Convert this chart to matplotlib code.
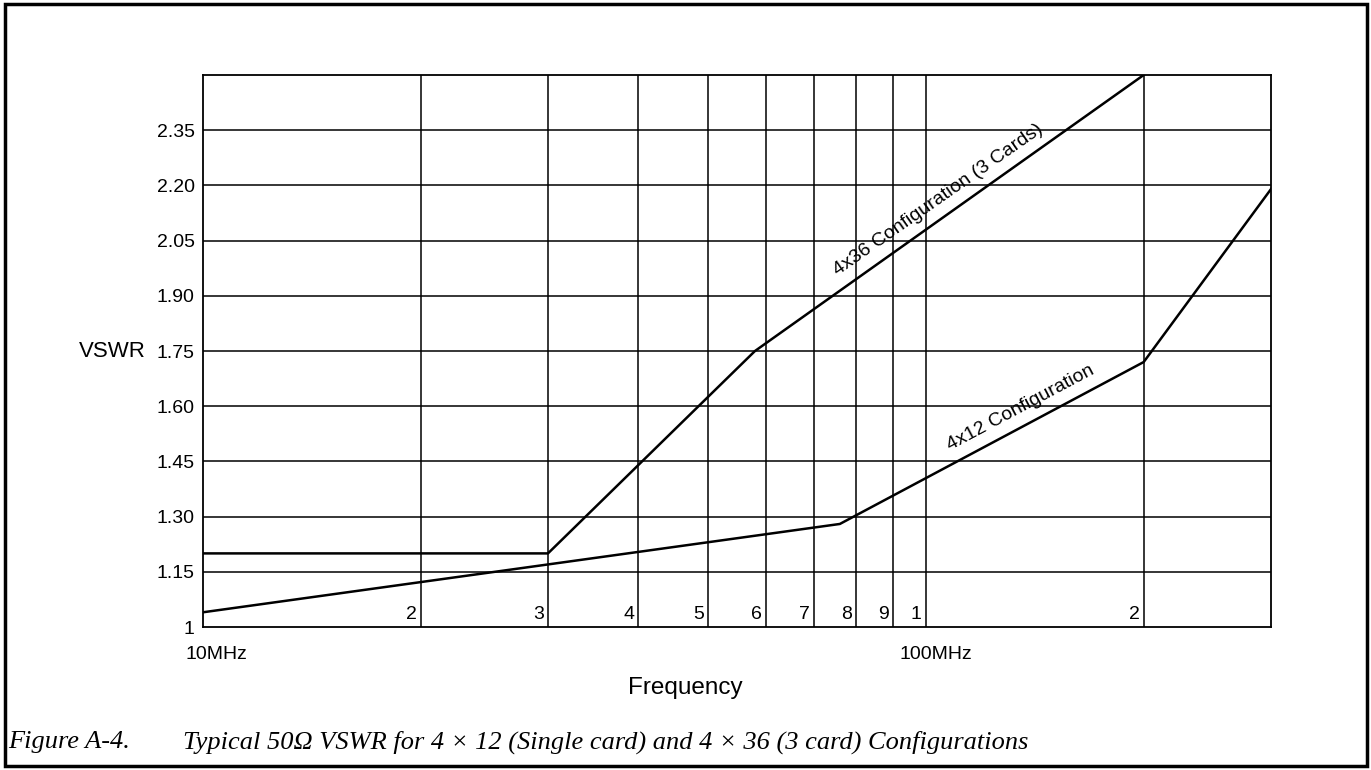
import numpy as np
import matplotlib
matplotlib.use('Agg')
import matplotlib.pyplot as plt
from matplotlib.patches import Rectangle
import matplotlib.transforms as mtransforms

plt.rcParams['font.family'] = ['Liberation Sans', 'DejaVu Sans']

# data (MHz, VSWR)
freq_4x36 = [10, 30, 58, 200]
vswr_4x36 = [1.20, 1.20, 1.75, 2.50]
freq_4x12 = [10, 30, 76, 200, 300]
vswr_4x12 = [1.04, 1.17, 1.28, 1.72, 2.19]

grid_freqs = [20, 30, 40, 50, 60, 70, 80, 90, 100, 200]
grid_labels = ['2', '3', '4', '5', '6', '7', '8', '9', '1', '2']
y_ticks = [1, 1.15, 1.30, 1.45, 1.60, 1.75, 1.90, 2.05, 2.20, 2.35]
y_labels = ['1', '1.15', '1.30', '1.45', '1.60', '1.75', '1.90', '2.05', '2.20', '2.35']

fig = plt.figure(figsize=(13.71, 7.70), dpi=100)
ax = fig.add_axes([203/1371, 1 - 627/770, (1271 - 203)/1371, (627 - 75)/770])

ax.set_xscale('log')
ax.set_xlim(10, 300)
ax.set_ylim(1, 2.5)

# grid
for f in grid_freqs:
    ax.axvline(f, color='black', lw=1.1, zorder=1)
for v in y_ticks[1:]:
    ax.axhline(v, color='black', lw=1.1, zorder=1)

ax.plot(freq_4x36, vswr_4x36, color='black', lw=1.8, zorder=3)
ax.plot(freq_4x12, vswr_4x12, color='black', lw=1.8, zorder=3)

ax.set_xticks([])
ax.set_xticks([], minor=True)
ax.set_yticks(y_ticks)
ax.set_yticklabels(y_labels, fontsize=14)
ax.tick_params(axis='y', length=0, pad=6)
for s in ax.spines.values():
    s.set_linewidth(1.3)

# digit labels just left of each gridline, inside the axes
trans = mtransforms.blended_transform_factory(ax.transData, ax.transAxes)
for f, lab in zip(grid_freqs, grid_labels):
    ax.annotate(lab, (f, 0.0), xycoords=trans, xytext=(-3, 3),
                textcoords='offset points', ha='right', va='bottom', fontsize=14)

ax.annotate('10MHz', (10, 0), xycoords=trans, xytext=(10, -14),
            textcoords='offset points', ha='center', va='top', fontsize=14)
ax.annotate('100MHz', (100, 0), xycoords=trans, xytext=(7, -14),
            textcoords='offset points', ha='center', va='top', fontsize=14)

ax.text(104, 2.16, '4x36 Configuration (3 Cards)', rotation=35, ha='center', va='center',
        fontsize=14)
ax.text(135, 1.595, '4x12 Configuration', rotation=28, ha='center', va='center',
        fontsize=14)

fig.text(685/1371, 1 - 688/770, 'Frequency', ha='center', va='center', fontsize=17.5)
fig.text(112/1371, 1 - 352/770, 'VSWR', ha='center', va='center', fontsize=16)

fig.text(8/1371, 1 - 742/770, 'Figure A-4.', ha='left', va='center', fontsize=19,
         family='Liberation Serif', style='italic')
fig.text(183/1371, 1 - 742/770,
         'Typical 50\u03a9 VSWR for 4 \u00d7 12 (Single card) and 4 \u00d7 36 (3 card) Configurations',
         ha='left', va='center', fontsize=19, family='Liberation Serif', style='italic')

fig.patches.append(Rectangle((5/1371, 4/770), 1362/1371, 762/770, transform=fig.transFigure,
                             fill=False, lw=2.5, edgecolor='black'))

fig.savefig('out.png', dpi=100)
